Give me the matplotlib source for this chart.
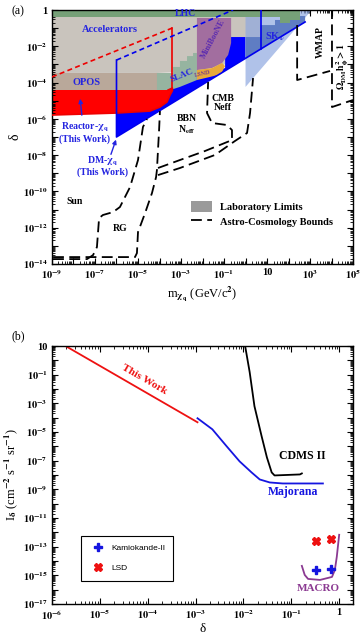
import numpy as np
import matplotlib
matplotlib.use('Agg')
import matplotlib.pyplot as plt
from matplotlib.ticker import LogLocator, NullFormatter, FuncFormatter
from matplotlib.patches import Patch
from matplotlib.lines import Line2D

plt.rcParams['font.family'] = ['Liberation Serif', 'DejaVu Serif']
plt.rcParams['font.weight'] = 'bold'
plt.rcParams['mathtext.fontset'] = 'stix'
plt.rcParams['mathtext.default'] = 'bf'

# ---- panel (a): all values are log10(m / GeV) and log10(delta) ----
lhc_m = [-9, 2.53, 2.53, 2.07, 2.07, 1.6, 1.6, -9]
lhc_d = [0, 0, -0.55, -0.55, -0.72, -0.72, -0.39, -0.39]
acc_m = [-9, 0.7, 0.7, -0.95, -0.95, -2.26, -4.12, -9]
acc_d = [0, 0, -1.49, -1.49, -3.0, -3.4, -3.47, -3.47]
opos_m = [-9, -4.12, -4.12, -9]
opos_d = [-3.47, -3.47, -4.41, -4.41]
slac_m = [-4.12, -3.37, -3.37, -3.05, -3.05, -2.72, -2.72, -2.44, -2.44, -2.26, -2.26, -3.05, -3.6, -4.12]
slac_d = [-3.47, -3.47, -3.14, -3.14, -2.81, -2.81, -2.54, -2.54, -2.37, -2.37, -3.86, -4.24, -4.45, -4.6]
mini_m = [-2.26, -0.67, -0.67, -0.81, -1.09, -1.56, -2.26]
mini_d = [-0.44, -0.44, -1.82, -2.48, -2.92, -3.2, -3.31]
lsnd_m = [-2.26, -1.56, -1.09, -0.95, -1.14, -1.65, -2.26]
lsnd_d = [-3.31, -3.2, -2.92, -3.09, -3.53, -3.69, -3.86]
react_m = [-9, -3.6, -3.4, -3.4, -3.51, -3.65, -3.98, -4.44, -6, -9]
react_d = [-4.41, -4.41, -4.3, -4.45, -4.69, -5.07, -5.35, -5.57, -5.68, -5.79]
react_dash_m = [-9, -3.4]
react_dash_d = [-3.69, -0.99]
dm_fill_m = [-6, -6, 0, 0, -0.95, -0.95, -2.26, -3.98, -6]
dm_fill_d = [-5.5, -7, -2.66, -1.49, -1.49, -3.2, -3.6, -4.4, -5.5]
dm_line_m = [-6, -6, 2.77]
dm_line_d = [-2.76, -7, -0.66]
dm_dash_m = [-6, -0.58]
dm_dash_d = [-2.76, 0]
sk_m = [0, 3.0, 3.0, 0]
sk_d = [0, 0, -0.11, -4.24]
skv_m = [0, 0.7, 0.7, 1.37, 1.37, 2.07, 2.07, 2.77, 2.77, 0]
skv_d = [-1.49, -1.49, -0.83, -0.83, -0.55, -0.55, -0.33, -0.33, -0.66, -2.66]
skv_line_m = [0.7, 0.7]
skv_line_d = [0, -2.15]

sun_m = [-8.95, -7.37, -7.09, -6.91, -6.81, -6.63, -6.16, -5.84, -5.37, -5.0, -4.77, -4.58]
sun_d = [-13.73, -13.73, -13.51, -13.07, -11.47, -11.3, -11.14, -10.86, -9.76, -8.27, -6.45, -6.01]
rg_m = [-8.95, -5.14, -5.05, -5.0, -4.67, -4.35, -4.16, -4.12, -4.02, -3.98]
rg_d = [-13.62, -13.62, -13.4, -12.24, -11.19, -10.09, -9.21, -8.82, -6.62, -5.57]
cmb1_m = [-4.07, -3.05, -1.88, -0.63, -0.63, -0.86, -1.56, -1.79, -1.74]
cmb1_d = [-8.71, -8.27, -7.77, -7.17, -6.62, -6.34, -6.23, -5.68, -3.97]
cmb2_m = [-4.07, -3.05, -1.42, -0.49, 0.07, 0.21, 0.35]
cmb2_d = [-9.1, -8.71, -7.99, -7.22, -6.78, -5.68, -3.75]
wmap_m = [2.4, 2.4, 3.93]
wmap_d = [-0.83, -3.86, -3.36]
omega_m = [4.02, 4.02, 5.0]
omega_d = [0.1, -5.35, -4.96]

# ---- panel (b): log10(delta) and log10(I_delta) ----
this_work_x = [-5.69, -2.96]
this_work_y = [0.95, -4.32]
majorana_x = [-2.96, -2.65, -2.35, -2.08, -1.83, -1.66, -1.45, -1.18, -0.34]
majorana_y = [-4.04, -4.81, -6.0, -7.05, -7.82, -8.31, -8.52, -8.59, -8.59]
cdms_x = [-1.97, -1.87, -1.77, -1.62, -1.51, -1.41, -1.35, -0.82, -0.78]
cdms_y = [1.1, -0.82, -3.2, -5.3, -6.77, -7.82, -8.03, -7.96, -7.89]
macro_x = [-0.78, -0.72, -0.65, -0.4, -0.15, -0.09, -0.05, 0.0]
macro_y = [-14.34, -14.97, -15.25, -15.32, -15.11, -14.62, -13.71, -12.17]
kam_delta = [1/3, 2/3]
kam_y = [-14.62, -14.55]
lsd_delta = [1/3, 2/3]
lsd_y = [-12.59, -12.45]


def P(a):
    return np.power(10.0, np.array(a, dtype=float))


def dec_fmt(show):
    def f(v, pos):
        e = int(round(np.log10(v)))
        if e not in show:
            return ''
        if e == 0:
            return '1'
        if e == 1:
            return '10'
        return r'$10^{%d}$' % e
    return FuncFormatter(f)


def style(ax, xshow, yshow):
    ax.set_xscale('log')
    ax.set_yscale('log')
    for a in (ax.xaxis, ax.yaxis):
        a.set_major_locator(LogLocator(base=10, numticks=40))
        a.set_minor_locator(LogLocator(base=10, subs=np.arange(2, 10), numticks=40))
        a.set_minor_formatter(NullFormatter())
    ax.xaxis.set_major_formatter(dec_fmt(xshow))
    ax.yaxis.set_major_formatter(dec_fmt(yshow))
    ax.tick_params(which='both', direction='in', top=True, right=True, labelsize=7.5, pad=3)
    ax.tick_params(which='major', length=4, width=0.8)
    ax.tick_params(which='minor', length=2, width=0.6)
    for s in ax.spines.values():
        s.set_linewidth(1.0)


fig = plt.figure(figsize=(3.61, 6.37), dpi=100)

# ================= panel (a) =================
ax1 = fig.add_axes([0.144, 0.5856, 0.834, 0.3987])
ax1.fill(P(acc_m), P(acc_d), color='#c9c4bd', lw=0, zorder=1)
ax1.fill(P(opos_m), P(opos_d), color='#b9a89a', lw=0, zorder=1.1)
ax1.fill(P(dm_fill_m), P(dm_fill_d), color='#0000ff', lw=0, zorder=1.2)
ax1.fill(P(slac_m), P(slac_d), color='#96b4a0', lw=0, zorder=1.3)
ax1.fill(P(mini_m), P(mini_d), color='#a26e9f', lw=0, zorder=1.4)
ax1.fill(P(lsnd_m), P(lsnd_d), color='#e8a93a', lw=0, zorder=1.4)
ax1.fill(P(react_m), P(react_d), color='#ff0000', lw=0, zorder=1.5)
ax1.fill(P(sk_m), P(sk_d), color='#8fa8e0', alpha=0.7, lw=0, zorder=1.6)
ax1.fill(P(skv_m), P(skv_d), color='#5f7dc3', lw=0, zorder=1.7)
ax1.fill(P(lhc_m), P(lhc_d), color='#76a078', lw=0, zorder=1.8)

ax1.plot(P(react_m[1:]), P(react_d[1:]), color='#ee0000', lw=1.2, zorder=3)
ax1.plot(P([react_m[2], react_m[2]]), P([react_d[2], react_dash_d[1]]), color='#ee0000', lw=1.2, zorder=3)
ax1.plot(P(react_dash_m), P(react_dash_d), color='#ee0000', lw=1.2, ls=(0, (3, 2)), zorder=3)
ax1.plot(P(dm_line_m), P(dm_line_d), color='#0000ee', lw=1.2, zorder=3)
ax1.plot(P(dm_dash_m), P(dm_dash_d), color='#0000ee', lw=1.2, ls=(0, (3, 2)), zorder=3)
ax1.plot(P(skv_line_m), P(skv_line_d), color='#0000ee', lw=1.2, zorder=3)

dash = (0, (6, 3))
for xm, yd in [(sun_m, sun_d), (rg_m, rg_d), (cmb1_m, cmb1_d), (cmb2_m, cmb2_d),
               (wmap_m, wmap_d), (omega_m, omega_d)]:
    ax1.plot(P(xm), P(yd), color='k', lw=1.3, ls=dash, zorder=3)

ax1.set_xlim(1e-9, 1e5)
ax1.set_ylim(1e-14, 1)
style(ax1, range(-9, 6, 2), range(-14, 1, 2))

blue_txt = '#2424e0'
tk = dict(ha='center', va='center', zorder=5)
ax1.text(10**-2.81, 10**-0.17, 'LHC', color=blue_txt, fontsize=7, **tk)
ax1.text(10**-6.3, 10**-1.05, 'Accelerators', color=blue_txt, fontsize=7.5, **tk)
ax1.text(10**-1.51, 10**-1.6, 'MiniBooNE', color='#5a2ab0', fontsize=6, rotation=62, **tk)
ax1.text(10**1.37, 10**-1.49, r'SK$_\nu$', color=blue_txt, fontsize=7.5, **tk)
ax1.text(10**3.47, 10**-1.76, 'WMAP', color='k', fontsize=7, rotation=90, **tk)
ax1.text(10**4.5, 10**-3.14, r'$\Omega_{DM}h_\phi^2 > 1$', color='k', fontsize=7, rotation=90, **tk)
ax1.text(10**-7.37, 10**-4.02, 'OPOS', color=blue_txt, fontsize=7.5, **tk)
ax1.text(10**-2.95, 10**-3.62, 'SLAC', color=blue_txt, fontsize=6.5, rotation=22, **tk)
ax1.text(10**-1.98, 10**-3.5, 'LSND', color='#7a3b8a', fontsize=4.5, rotation=12, **tk)
ax1.text(10**-1.05, 10**-5.13, 'CMB\nNeff', color='k', fontsize=7, linespacing=1.1, **tk)
ax1.text(10**-2.75, 10**-6.34, 'BBN\nN$_{eff}$', color='k', fontsize=7, linespacing=1.0, **tk)
ax1.text(10**-7.47, 10**-6.75, 'Reactor-$\\chi_q$\n(This Work)', color=blue_txt, fontsize=7, linespacing=1.0, **tk)
ax1.text(10**-6.63, 10**-8.6, 'DM-$\\chi_q$\n(This Work)', color=blue_txt, fontsize=7, linespacing=1.0, **tk)
ax1.text(10**-7.93, 10**-10.58, 'Sun', color='k', fontsize=7, **tk)
ax1.text(10**-5.84, 10**-12.02, 'RG', color='k', fontsize=7, **tk)
ax1.annotate('', xy=(10**-7.7, 10**-4.74), xytext=(10**-7.6, 10**-5.95),
             arrowprops=dict(arrowstyle='-|>', color=blue_txt, lw=1.0, mutation_scale=6), zorder=5)
ax1.annotate('', xy=(10**-5.98, 10**-7.0), xytext=(10**-6.3, 10**-8.1),
             arrowprops=dict(arrowstyle='-|>', color=blue_txt, lw=1.0, mutation_scale=6), zorder=5)

handles = [Patch(facecolor='#9a9a9a', edgecolor='none'),
           Line2D([], [], color='k', lw=1.3, ls=dash)]
ax1.legend(handles, ['Laboratory Limits', 'Astro-Cosmology Bounds'], loc='center left',
           bbox_to_anchor=(0.43, 0.197), frameon=False, fontsize=7.5, handlelength=2.0,
           handleheight=1.2, labelspacing=0.4, handletextpad=0.8)

ax1.set_xlabel(r'm$_{\chi_q}$ (GeV/c$^2$)', fontsize=9, labelpad=2)
ax1.set_ylabel('δ', fontsize=10, labelpad=1)
fig.text(0.033, 0.992, '(a)', fontsize=8.5, fontweight='normal', va='top')

# ================= panel (b) =================
ax2 = fig.add_axes([0.144, 0.0518, 0.834, 0.405])
ax2.plot(P(this_work_x), P(this_work_y), color='#ee1111', lw=1.3)
ax2.plot(P(majorana_x), P(majorana_y), color='#1515e0', lw=1.3)
ax2.plot(P(cdms_x), P(cdms_y), color='k', lw=1.3)
ax2.plot(P(macro_x), P(macro_y), color='#8b3a92', lw=1.3)
ax2.plot(kam_delta, P(kam_y), ls='none', marker='P', ms=6, color='#1515e0', label='Kamiokande-II')
ax2.plot(lsd_delta, P(lsd_y), ls='none', marker='X', ms=6, color='#ee1111', label='LSD')

ax2.set_xlim(1e-6, 1.95)
ax2.set_ylim(1e-17, 10)
style(ax2, range(-6, 1), range(-17, 2, 2))

ax2.text(10**-4.07, 10**-1.31, 'This Work', color='#ee1111', fontsize=8, rotation=-30, ha='center', va='center')
ax2.text(10**-0.76, 10**-6.7, 'CDMS II', color='k', fontsize=8.5, ha='center', va='center')
ax2.text(10**-0.97, 10**-9.22, 'Majorana', color='#1515e0', fontsize=8.5, ha='center', va='center')
ax2.text(10**-0.44, 10**-15.9, 'MACRO', color='#8b3a92', fontsize=8, ha='center', va='center')

leg = ax2.legend(loc='lower left', bbox_to_anchor=(0.083, 0.074), fancybox=False, edgecolor='k',
                 prop={'family': 'Liberation Sans', 'size': 6, 'weight': 'normal'},
                 labelspacing=1.5, borderpad=1.0, handletextpad=0.6, framealpha=1)
leg.get_frame().set_linewidth(0.8)

ax2.set_xlabel('δ', fontsize=9.5, labelpad=1)
ax2.set_ylabel(r'I$_\delta$ (cm$^{-2}$ s$^{-1}$ sr$^{-1}$)', fontsize=9, labelpad=2)
fig.text(0.033, 0.472, '(b)', fontsize=8.5, fontweight='normal', va='center')

fig.savefig('out.png', dpi=100)
